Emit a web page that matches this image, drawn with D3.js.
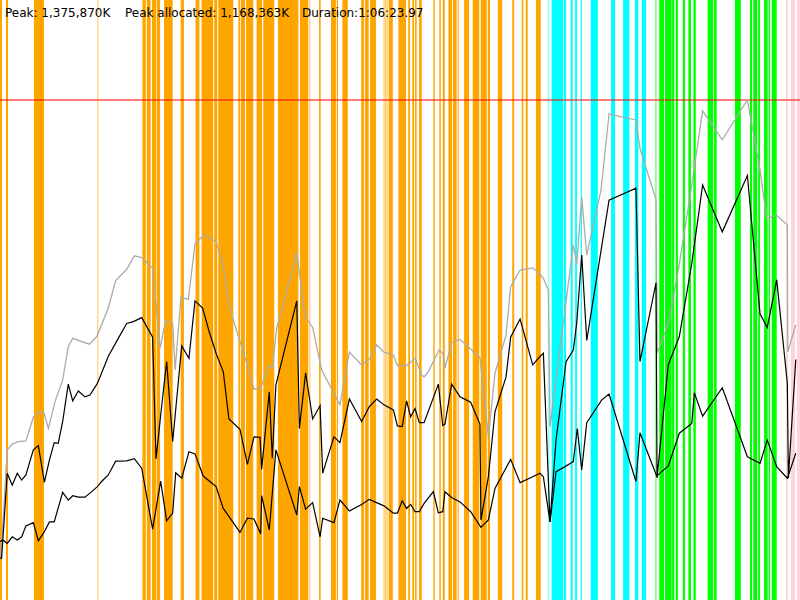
<!DOCTYPE html>
<html>
<head>
<meta charset="utf-8">
<script src="https://cdn.jsdelivr.net/npm/d3@7"></script>
<style>
  body { margin: 0; background: #fff; }
  svg { display: block; }
  .hdr { font-family: "DejaVu Sans", Verdana, sans-serif; font-size: 12px; fill: #000; }
</style>
</head>
<body>
<svg width="800" height="600"></svg>
<script>
/* heap usage over a run - values in thousands of K, times in seconds */

var peakK = 1375870, peakAllocK = 1168363, durationSec = 3983.97;

/* committed heap (grey) */
var heapT = [0, 8, 36, 61, 91, 129, 166, 196, 219, 241, 274, 312, 340, 362, 445, 482, 539, 576, 631, 669, 706, 760, 797, 825, 860, 872, 901, 938, 971, 1016, 1076, 1109, 1142, 1229, 1265, 1298, 1341, 1356, 1378, 1478, 1519, 1557, 1602, 1693, 1740, 1801, 1839, 1876, 1912, 1959, 1979, 2025, 2067, 2100, 2112, 2133, 2186, 2205, 2216, 2249, 2291, 2390, 2432, 2465, 2520, 2543, 2590, 2653, 2689, 2706, 2731, 2739, 2855, 2872, 2897, 2922, 2993, 3033, 3167, 3187, 3267, 3273, 3328, 3378, 3445, 3499, 3597, 3722, 3785, 3818, 3868, 3921, 3923, 3963];
var heapV = [116, 151, 413, 429, 436, 438, 503, 518, 515, 472, 546, 605, 697, 720, 704, 725, 803, 879, 910, 947, 942, 913, 693, 770, 761, 633, 833, 827, 980, 1005, 986, 926, 807, 651, 580, 584, 647, 638, 748, 956, 780, 750, 633, 537, 682, 647, 662, 702, 682, 674, 645, 645, 665, 619, 614, 628, 688, 679, 638, 708, 717, 668, 449, 624, 729, 862, 908, 914, 897, 885, 853, 477, 977, 925, 1108, 949, 1128, 1337, 1321, 1243, 1101, 679, 761, 908, 1142, 1346, 1266, 1376, 1183, 1050, 1059, 1032, 683, 757];

/* used before collection (upper black) */
var usedT = [0, 8, 36, 61, 86, 108, 129, 166, 191, 221, 246, 270, 290, 312, 340, 362, 390, 423, 448, 485, 539, 589, 631, 664, 706, 760, 777, 802, 830, 860, 905, 941, 971, 1009, 1042, 1076, 1112, 1140, 1195, 1232, 1265, 1295, 1303, 1341, 1356, 1374, 1478, 1491, 1522, 1557, 1594, 1607, 1663, 1693, 1740, 1801, 1839, 1876, 1912, 1959, 1979, 2003, 2025, 2045, 2067, 2088, 2112, 2183, 2205, 2216, 2249, 2291, 2344, 2390, 2395, 2432, 2465, 2520, 2543, 2590, 2653, 2689, 2706, 2739, 2769, 2819, 2855, 2872, 2897, 2922, 3033, 3167, 3187, 3267, 3272, 3328, 3383, 3445, 3499, 3597, 3722, 3785, 3821, 3868, 3921, 3926, 3963];
var usedV = [115, 115, 349, 316, 349, 330, 344, 413, 425, 324, 385, 433, 431, 491, 594, 548, 575, 559, 564, 596, 670, 720, 761, 766, 777, 723, 388, 518, 656, 436, 699, 665, 823, 803, 738, 679, 628, 498, 470, 373, 449, 448, 360, 573, 390, 592, 823, 472, 625, 498, 535, 349, 449, 433, 553, 491, 532, 553, 537, 523, 479, 477, 548, 504, 527, 488, 488, 594, 480, 484, 594, 559, 544, 484, 220, 339, 518, 614, 723, 773, 647, 670, 679, 215, 440, 656, 688, 761, 949, 714, 1100, 1133, 656, 873, 336, 647, 725, 926, 1142, 1013, 1168, 787, 750, 881, 596, 335, 662];

/* live after collection (lower black) */
var liveT = [0, 13, 36, 61, 86, 108, 129, 166, 191, 221, 246, 270, 312, 340, 362, 390, 423, 448, 485, 506, 539, 576, 631, 669, 706, 760, 800, 830, 860, 875, 905, 941, 971, 1012, 1076, 1112, 1159, 1195, 1232, 1265, 1298, 1303, 1341, 1374, 1478, 1491, 1522, 1557, 1594, 1607, 1663, 1693, 1740, 1801, 1839, 1912, 1959, 1979, 2003, 2025, 2045, 2067, 2088, 2112, 2158, 2183, 2205, 2216, 2249, 2291, 2344, 2395, 2432, 2465, 2543, 2590, 2653, 2689, 2706, 2739, 2769, 2814, 2855, 2875, 2897, 2922, 2996, 3033, 3167, 3187, 3270, 3328, 3383, 3445, 3458, 3499, 3597, 3722, 3785, 3821, 3868, 3921, 3963];
var liveV = [160, 165, 156, 174, 165, 174, 204, 213, 163, 188, 215, 215, 296, 275, 287, 283, 283, 294, 312, 326, 344, 382, 383, 389, 362, 195, 327, 218, 239, 350, 335, 408, 402, 341, 312, 252, 215, 186, 225, 223, 182, 287, 193, 413, 234, 312, 250, 268, 174, 225, 213, 275, 245, 263, 277, 259, 239, 239, 273, 252, 263, 243, 243, 266, 298, 240, 243, 298, 282, 270, 243, 200, 220, 307, 387, 323, 339, 349, 339, 215, 353, 367, 381, 472, 358, 488, 550, 567, 326, 460, 341, 369, 459, 486, 570, 506, 584, 394, 376, 440, 367, 335, 404];

/* collection events [start, end] in seconds */
var youngGC = [[0, 10], [30, 40], [169, 219], [709, 726], [731, 750], [757, 777], [780, 797], [817, 860], [900, 916], [976, 993], [1004, 1062], [1067, 1082], [1087, 1162], [1187, 1195], [1199, 1220], [1225, 1261], [1278, 1305], [1311, 1366], [1384, 1486], [1494, 1535], [1589, 1597], [1648, 1673], [1677, 1683], [1705, 1732], [1799, 1813], [1818, 1836], [1843, 1872], [1936, 1956], [1984, 2022], [2033, 2042], [2053, 2062], [2067, 2075], [2087, 2100], [2158, 2165], [2188, 2195], [2205, 2215], [2233, 2251], [2256, 2274], [2279, 2284], [2311, 2336], [2354, 2387], [2394, 2424], [2429, 2440], [2479, 2501], [2551, 2561], [2598, 2606], [2618, 2628], [2669, 2693]];
var youngGCLight = [[186, 195], [483, 490], [971, 976], [1539, 1547], [1909, 1934], [1468, 1478]];
var mixedGC = [[2747, 2805], [2809, 2819], [2842, 2852], [2864, 2873], [2892, 2898], [2942, 2977], [3043, 3063], [3103, 3134], [3162, 3179], [3196, 3217]];
var mixedGCLight = [[2728, 2736]];
var concGC = [[3283, 3307], [3312, 3345], [3347, 3358], [3365, 3376], [3400, 3411], [3428, 3441], [3453, 3465], [3524, 3552], [3556, 3569], [3660, 3689], [3735, 3745], [3751, 3771], [3776, 3785], [3805, 3823], [3828, 3835], [3843, 3868]];
var concGCLight = [[3262, 3270]];
var fullGC = [[3914, 3923], [3939, 3959], [3968, 3984]];

var svg = d3.select("svg"),
    width = +svg.attr("width"),
    height = +svg.attr("height");

var x = d3.scaleLinear().domain([0, durationSec]).range([0, width]);
var y = d3.scaleLinear().domain([0, peakK / 1000 * 1.2]).range([height, 0]);

function drawBands(list, colour, op) {
    svg.append("g").selectAll("rect")
        .data(list)
        .enter().append("rect")
        .attr("x", function (d) { return x(d[0]); })
        .attr("width", function (d) { return Math.max(1, x(d[1]) - x(d[0])); })
        .attr("y", 0)
        .attr("height", height)
        .attr("fill", colour)
        .attr("fill-opacity", op);
}

drawBands(youngGC, "#ffa500", 1);
drawBands(youngGCLight, "#ffa500", 0.45);
drawBands(mixedGC, "#00ffff", 1);
drawBands(mixedGCLight, "#00ffff", 0.45);
drawBands(concGC, "#00ff00", 1);
drawBands(concGCLight, "#00ff00", 0.45);
drawBands(fullGC, "#ffc0cb", 0.7);

/* peak line */
svg.append("line")
    .attr("x1", 0).attr("x2", width)
    .attr("y1", y(peakK / 1000)).attr("y2", y(peakK / 1000))
    .attr("stroke", "#ff0000")
    .attr("stroke-opacity", 0.5)
    .attr("stroke-width", 2);

function drawLine(ts, vs, colour, w) {
    var pts = ts.map(function (t, i) { return [t, vs[i]]; });
    var line = d3.line()
        .x(function (d) { return x(d[0]); })
        .y(function (d) { return y(d[1]); });
    svg.append("path")
        .datum(pts)
        .attr("fill", "none")
        .attr("stroke", colour)
        .attr("stroke-width", w)
        .attr("stroke-linejoin", "miter")
        .attr("d", line);
}

drawLine(heapT, heapV, "#ababab", 1.3);
drawLine(liveT, liveV, "#000", 1.2);
drawLine(usedT, usedV, "#000", 1.2);

/* header */
var fmt = d3.format(",");
function dur(s) {
    var h = Math.floor(s / 3600), m = Math.floor((s % 3600) / 60), sec = s - h * 3600 - m * 60;
    return h + ":" + d3.format("02")(m) + ":" + d3.format("05.2f")(sec);
}
svg.append("text").attr("class", "hdr").attr("x", 5).attr("y", 17)
    .text("Peak: " + fmt(peakK) + "K");
svg.append("text").attr("class", "hdr").attr("x", 125).attr("y", 17)
    .text("Peak allocated: " + fmt(peakAllocK) + "K");
svg.append("text").attr("class", "hdr").attr("x", 302).attr("y", 17)
    .text("Duration:" + dur(durationSec));
</script>
</body>
</html>
